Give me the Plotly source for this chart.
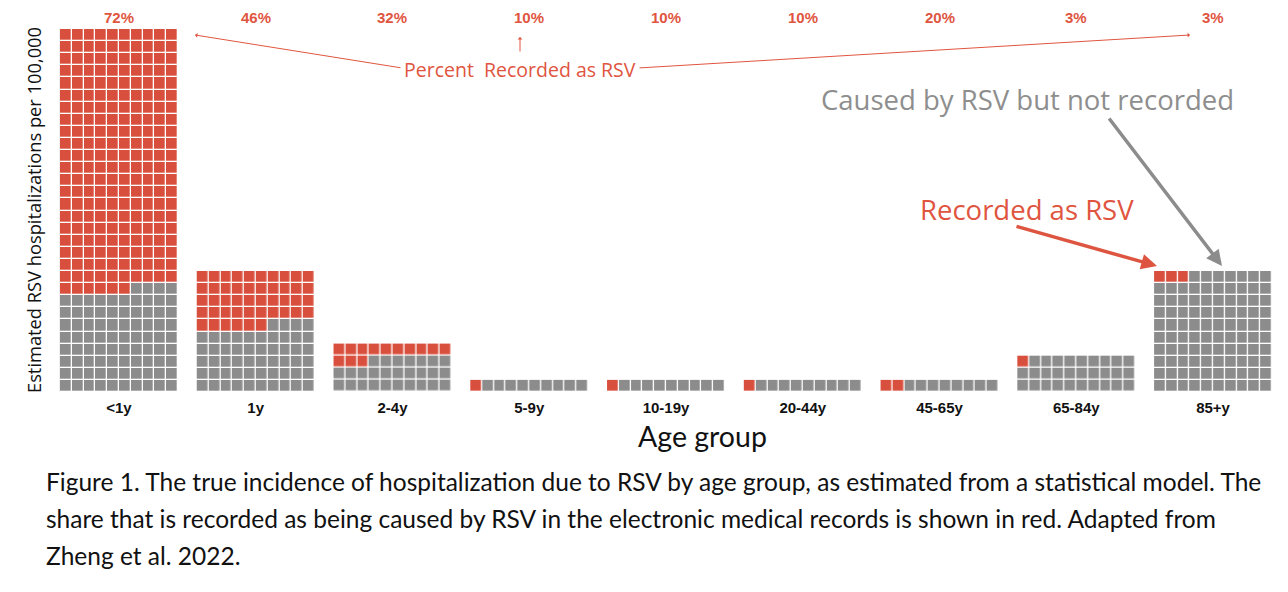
import plotly.graph_objects as go

# --- Data: waffle squares per age group (each square = same unit of incidence) ---
age_groups = ["<1y", "1y", "2-4y", "5-9y", "10-19y", "20-44y", "45-65y", "65-84y", "85+y"]
total_squares = [300, 100, 40, 10, 10, 10, 10, 30, 100]
recorded_squares = [216, 46, 13, 1, 1, 1, 2, 1, 3]

RED = "#d94f3d"
GRAY = "#8c8c8c"
COLS = 10
PITCH = 11.6  # group spacing in cell units

# page has an 8px body margin, so the figure sits at (8, 8)
OFF = 8
W, H = 1288 - 2 * OFF, 592 - 2 * OFF
L, R, T, B = 60 - OFF, 8, 29 - OFF, H - (392 - OFF)
plot_w = W - L - R
plot_h = H - T - B


def px(x, y):
    # pixel position on the page -> paper coordinates
    return (x - OFF - L) / plot_w, (H - B - (y - OFF)) / plot_h


fig = go.Figure()

for g, (name, total, red) in enumerate(zip(age_groups, total_squares, recorded_squares)):
    nrows = total // COLS
    xs = [g * PITCH + c for c in range(COLS)]
    ys = list(range(nrows))
    z = [[0] * COLS for _ in range(nrows)]
    # red squares fill from the top row, left to right
    for k in range(red):
        z[nrows - 1 - k // COLS][k % COLS] = 1
    fig.add_trace(go.Heatmap(
        x=xs, y=ys, z=z,
        zmin=0, zmax=1,
        colorscale=[[0, GRAY], [0.5, GRAY], [0.5, RED], [1, RED]],
        showscale=False,
        xgap=1.3, ygap=1.3,
        hoverinfo="skip",
        name=name,
    ))

centers = [g * PITCH + (COLS - 1) / 2 for g in range(len(age_groups))]

annotations = []
arial = "Liberation Sans, Arial, sans-serif"
for cx, total, red in zip(centers, total_squares, recorded_squares):
    annotations.append(dict(
        x=cx, xref="x", y=px(0, 17)[1], yref="paper",
        xanchor="center", yanchor="middle",
        text="<b>%d%%</b>" % int(100 * red / total), showarrow=False,
        font=dict(family=arial, size=15, color="#e0553f"),
    ))


def label(x, y, text, size, color, family="Open Sans, Lato, sans-serif", **kw):
    px_x, px_y = px(x, y)
    return dict(x=px_x, y=px_y, xref="paper", yref="paper",
                xanchor="center", yanchor="middle", text=text, showarrow=False,
                font=dict(family=family, size=size, color=color), **kw)


annotations += [
    label(520, 69, "Percent  Recorded as RSV", 19.5, "#e0553f"),
    label(1027, 100, "Caused by RSV but not recorded", 27.5, "#8e8e8e"),
    label(1027, 209, "Recorded as RSV", 27.5, "#e0553f"),
    label(702, 436, "Age group", 28.5, "#111111", family="Lato, sans-serif"),
    label(33, 210, "Estimated RSV hospitalizations per 100,000", 18.3, "#111111",
          textangle=-90),
]

# thin arrows from the "Percent Recorded as RSV" label
for hx, hy, tx, ty in [(195, 35, 402, 68), (520, 37, 520, 53), (1190, 35, 638, 68)]:
    x0, y0 = px(hx, hy)
    annotations.append(dict(
        x=x0, y=y0, xref="paper", yref="paper", text="",
        showarrow=True, ax=tx - hx, ay=ty - hy,
        arrowhead=1, arrowsize=0.8, arrowwidth=1, arrowcolor="#e0553f",
    ))

# thick pointer arrows to the 85+y group
for hx, hy, tx, ty, col in [(1222, 266, 1108, 117, GRAY), (1157, 266, 1015, 226, "#dd5540")]:
    x0, y0 = px(hx, hy)
    annotations.append(dict(
        x=x0, y=y0, xref="paper", yref="paper", text="",
        showarrow=True, ax=tx - hx, ay=ty - hy,
        arrowhead=2, arrowsize=0.9, arrowwidth=3.5, arrowcolor=col,
    ))

caption = [
    "Figure 1. The true incidence of hospitalization due to RSV by age group, as estimated from a statistical model. The",
    "share that is recorded as being caused by RSV in the electronic medical records is shown in red. Adapted from",
    "Zheng et al. 2022.",
]
for i, line in enumerate(caption):
    annotations.append(dict(
        x=px(44, 0)[0], y=px(0, 481 + 37 * i)[1], xref="paper", yref="paper",
        xanchor="left", yanchor="middle", text=line, showarrow=False,
        font=dict(family="Lato, sans-serif", size=24.5, color="#111111"),
    ))

fig.update_layout(
    width=W, height=H,
    margin=dict(l=L, r=R, t=T, b=B),
    plot_bgcolor="white", paper_bgcolor="white",
    showlegend=False,
    annotations=annotations,
    xaxis=dict(
        range=[-0.5, (len(age_groups) - 1) * PITCH + COLS - 0.5],
        tickvals=centers, ticktext=age_groups,
        tickfont=dict(family=arial, size=15, color="#111111", weight="bold"),
        ticklabelstandoff=5,
        showgrid=False, zeroline=False, ticks="",
    ),
    yaxis=dict(
        range=[-0.5, 29.5],
        showticklabels=False, showgrid=False, zeroline=False, ticks="",
        showline=True, linecolor="#f0f0f0",
    ),
)

fig.write_html("out.html")
